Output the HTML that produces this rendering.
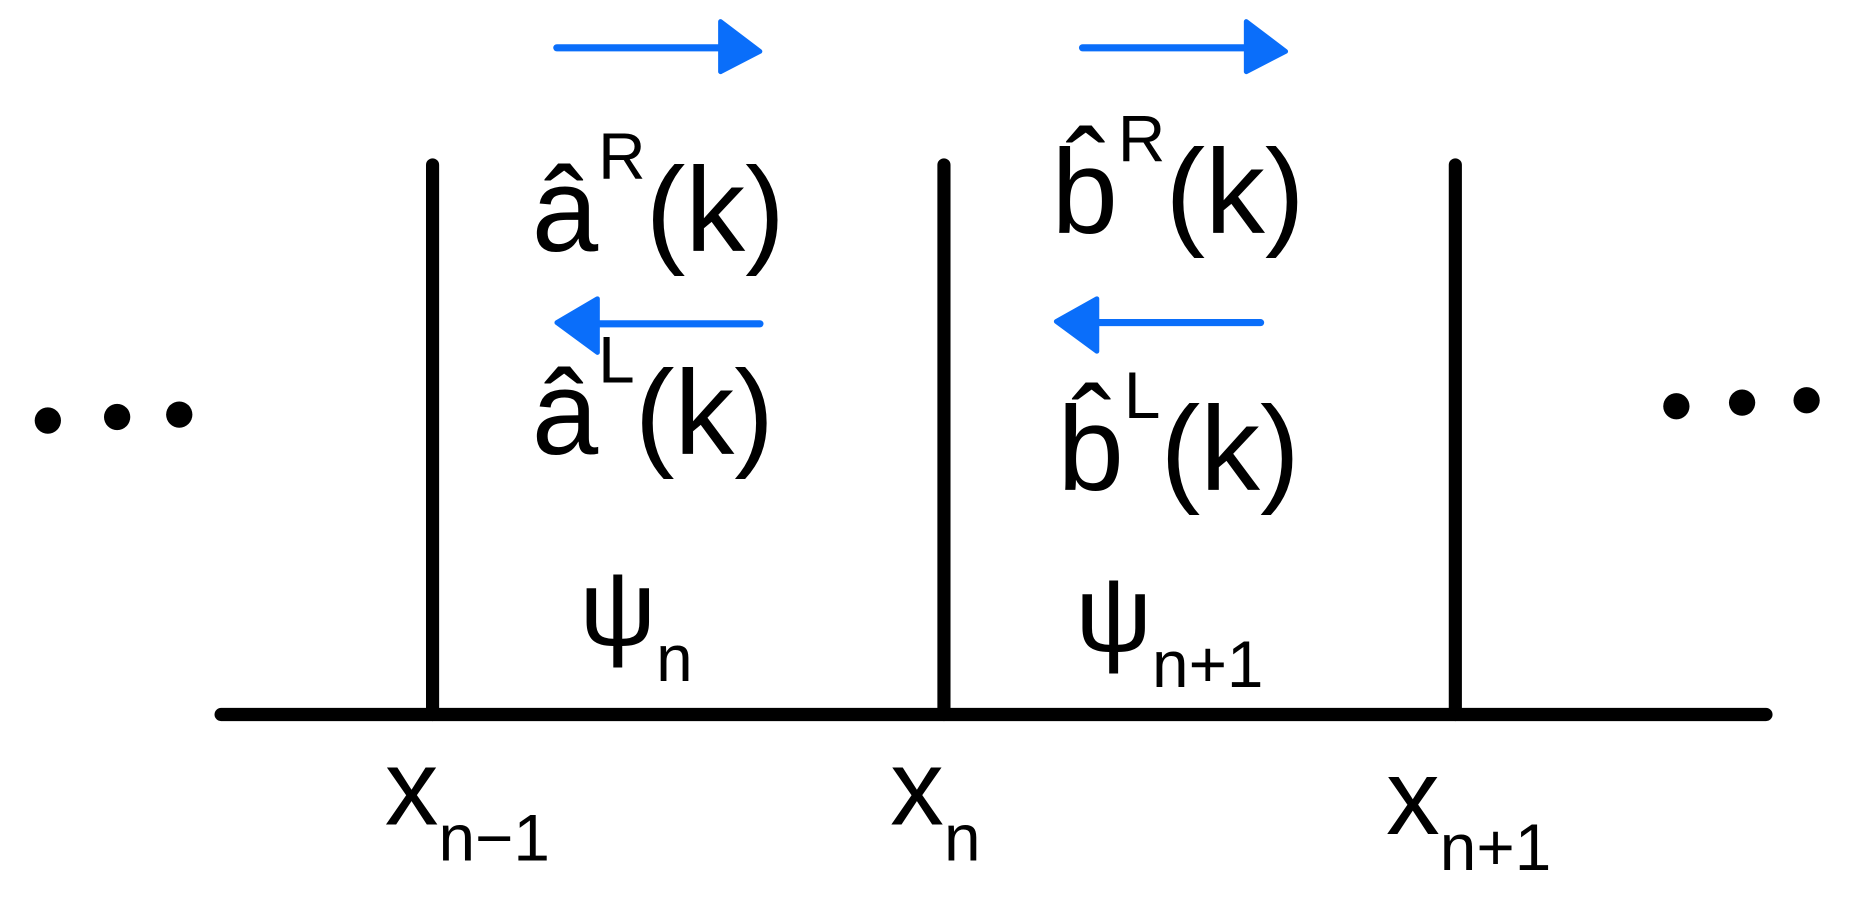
<!DOCTYPE html>
<html><head><meta charset="utf-8"><style>
html,body{margin:0;padding:0;background:#fff;}
svg{display:block}
text{font-family:"Liberation Sans",sans-serif;fill:#000}
</style></head><body>
<svg width="1864" height="923" viewBox="0 0 1560 772.5" xmlns="http://www.w3.org/2000/svg">
<rect width="1560" height="773" fill="#fff"/>
<g stroke="#000" stroke-width="11" stroke-linecap="round">
<line x1="185" y1="598" x2="1478" y2="598"/>
<line x1="362" y1="138" x2="362" y2="598"/>
<line x1="790" y1="138" x2="790" y2="598"/>
<line x1="1218" y1="138" x2="1218" y2="598"/>
</g>
<g fill="#000">
<circle cx="40" cy="352" r="11"/><circle cx="98" cy="349" r="11"/><circle cx="150" cy="347" r="11"/>
</g>
<g fill="#000">
<circle cx="1403" cy="340" r="11"/><circle cx="1458" cy="337" r="11"/><circle cx="1512" cy="335" r="11"/>
</g>
<g fill="#0A6EFA" stroke="#0A6EFA" stroke-linejoin="round" stroke-linecap="round">
<line x1="466" y1="40" x2="605" y2="40" stroke-width="6"/>
<polygon points="603,18 636,43 603,60" stroke-width="4"/>
<line x1="906" y1="40" x2="1045" y2="40" stroke-width="6"/>
<polygon points="1043,18 1076,43 1043,60" stroke-width="4"/>
<line x1="498" y1="271" x2="636" y2="271" stroke-width="6"/>
<polygon points="500,250 466,270 500,295" stroke-width="4"/>
<line x1="917" y1="270" x2="1055" y2="270" stroke-width="6"/>
<polygon points="918,250 884,269 918,294" stroke-width="4"/>
</g>
<g>
<text x="445" y="210" font-size="100">â<tspan font-size="55" dy="-60">R</tspan><tspan dy="60">(k)</tspan></text>
<text x="880" y="195" font-size="100">b̂<tspan font-size="55" dy="-60">R</tspan><tspan dy="60">(k)</tspan></text>
<text x="445" y="380" font-size="100">â<tspan font-size="55" dy="-60">L</tspan><tspan dy="60">(k)</tspan></text>
<text x="885" y="410" font-size="100">b̂<tspan font-size="55" dy="-60">L</tspan><tspan dy="60">(k)</tspan></text>
<text x="485" y="540" font-size="90">ψ<tspan font-size="55" dy="30">n</tspan></text>
<text x="900" y="545" font-size="90">ψ<tspan font-size="55" dy="30">n+1</tspan></text>
<text x="322" y="690" font-size="90">x<tspan font-size="55" dy="30">n−1</tspan></text>
<text x="745" y="690" font-size="90">x<tspan font-size="55" dy="30">n</tspan></text>
<text x="1160" y="698" font-size="90">x<tspan font-size="55" dy="30">n+1</tspan></text>
</g>
</svg>
</body></html>
